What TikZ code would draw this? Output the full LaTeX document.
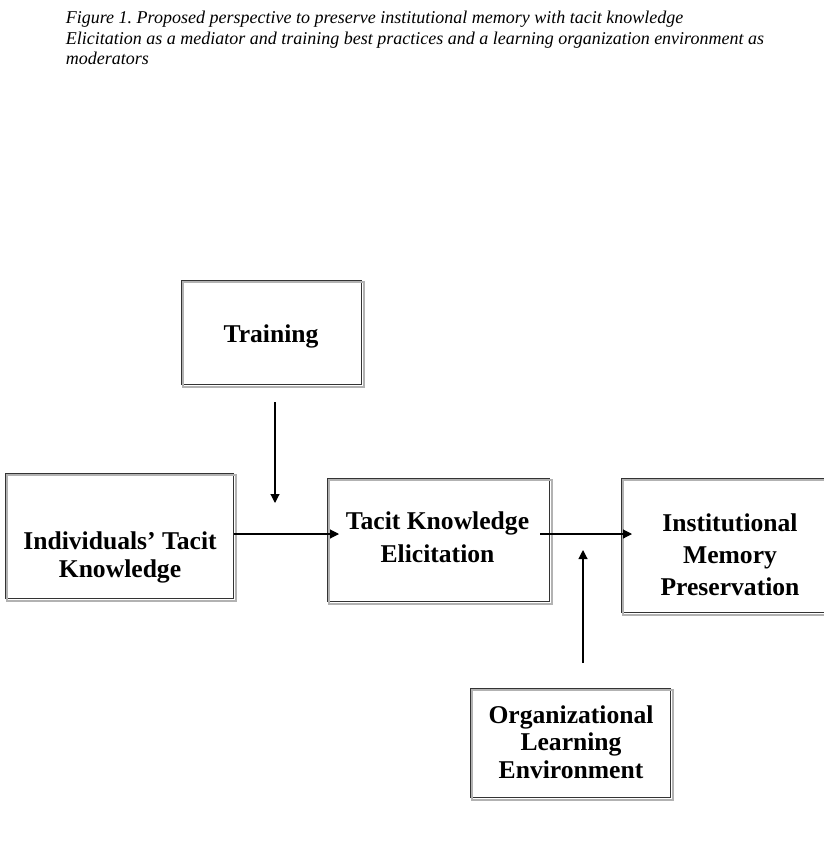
\documentclass[tikz,border=0pt]{standalone}
\usepackage{fontspec}
\setmainfont{Liberation Serif}
\usetikzlibrary{arrows.meta}
\frenchspacing

\begin{document}
\begin{tikzpicture}[x=1pt, y=-1pt,
    frame/.style={draw=black!80, line width=1pt, inner sep=0pt},
    shade/.style={draw=black!30, line width=1.2pt},
    lbl/.style={font=\fontsize{25.6}{#1}\selectfont\bfseries, align=center,
      inner sep=0pt, anchor=base},
    lbl/.default=32,
    caption/.style={font=\fontsize{18}{20.5}\selectfont\itshape, align=left,
      inner sep=0pt, anchor=base west},
    flow/.style={-{Triangle[length=9pt, width=9pt]}, line width=1.1pt}]

  \useasboundingbox (0,0) rectangle (824,867);

  % caption (anchored at the baseline of its last line)
  \node[caption] (cap) at (65.7,64.5) {Figure 1. Proposed perspective to
    preserve institutional memory with tacit knowledge\\Elicitation as a
    mediator and training best practices and a learning organization
    environment as\\moderators};

  % boxes
  \node[frame, minimum width=180, minimum height=104] (train) at (271,332) {};
  \node[frame, minimum width=228, minimum height=125] (indiv) at (119,535.5) {};
  \node[frame, minimum width=222, minimum height=123] (elic) at (438,539.5) {};
  \node[frame, minimum width=219, minimum height=134] (inst) at (730.5,545) {};
  \node[frame, minimum width=200, minimum height=109] (org) at (570,742.5) {};

  \foreach \n in {train,indiv,elic,inst,org}
    \draw[shade] ([shift={(2.5,2.5)}]\n.north west) rectangle
      ([shift={(2.5,2.5)}]\n.south east);

  % labels (anchored at the baseline of the last line)
  \node[lbl] (trainT) at (271,342) {Training};
  \node[lbl=28] (indivT) at (120,577) {Individuals’ Tacit\\Knowledge};
  \node[lbl=33] (elicT) at (437.5,562) {Tacit Knowledge\\Elicitation};
  \node[lbl=32] (instT) at (730,595) {Institutional\\Memory\\Preservation};
  \node[lbl=27.5] (orgT) at (571,778) {Organizational\\Learning\\Environment};

  % arrows
  \coordinate (t1) at (275,402);
  \coordinate (t2) at (275,503);
  \coordinate (e1) at (339,534);
  \coordinate (o1) at (540,534);
  \coordinate (o2) at (632,534);
  \coordinate (u1) at (583,663);
  \coordinate (u2) at (583,550);

  \draw[flow] (t1) -- (t2);
  \draw[flow] (indiv.east |- e1) -- (e1);
  \draw[flow] (o1) -- (o2);
  \draw[flow] (u1) -- (u2);
\end{tikzpicture}
\end{document}
